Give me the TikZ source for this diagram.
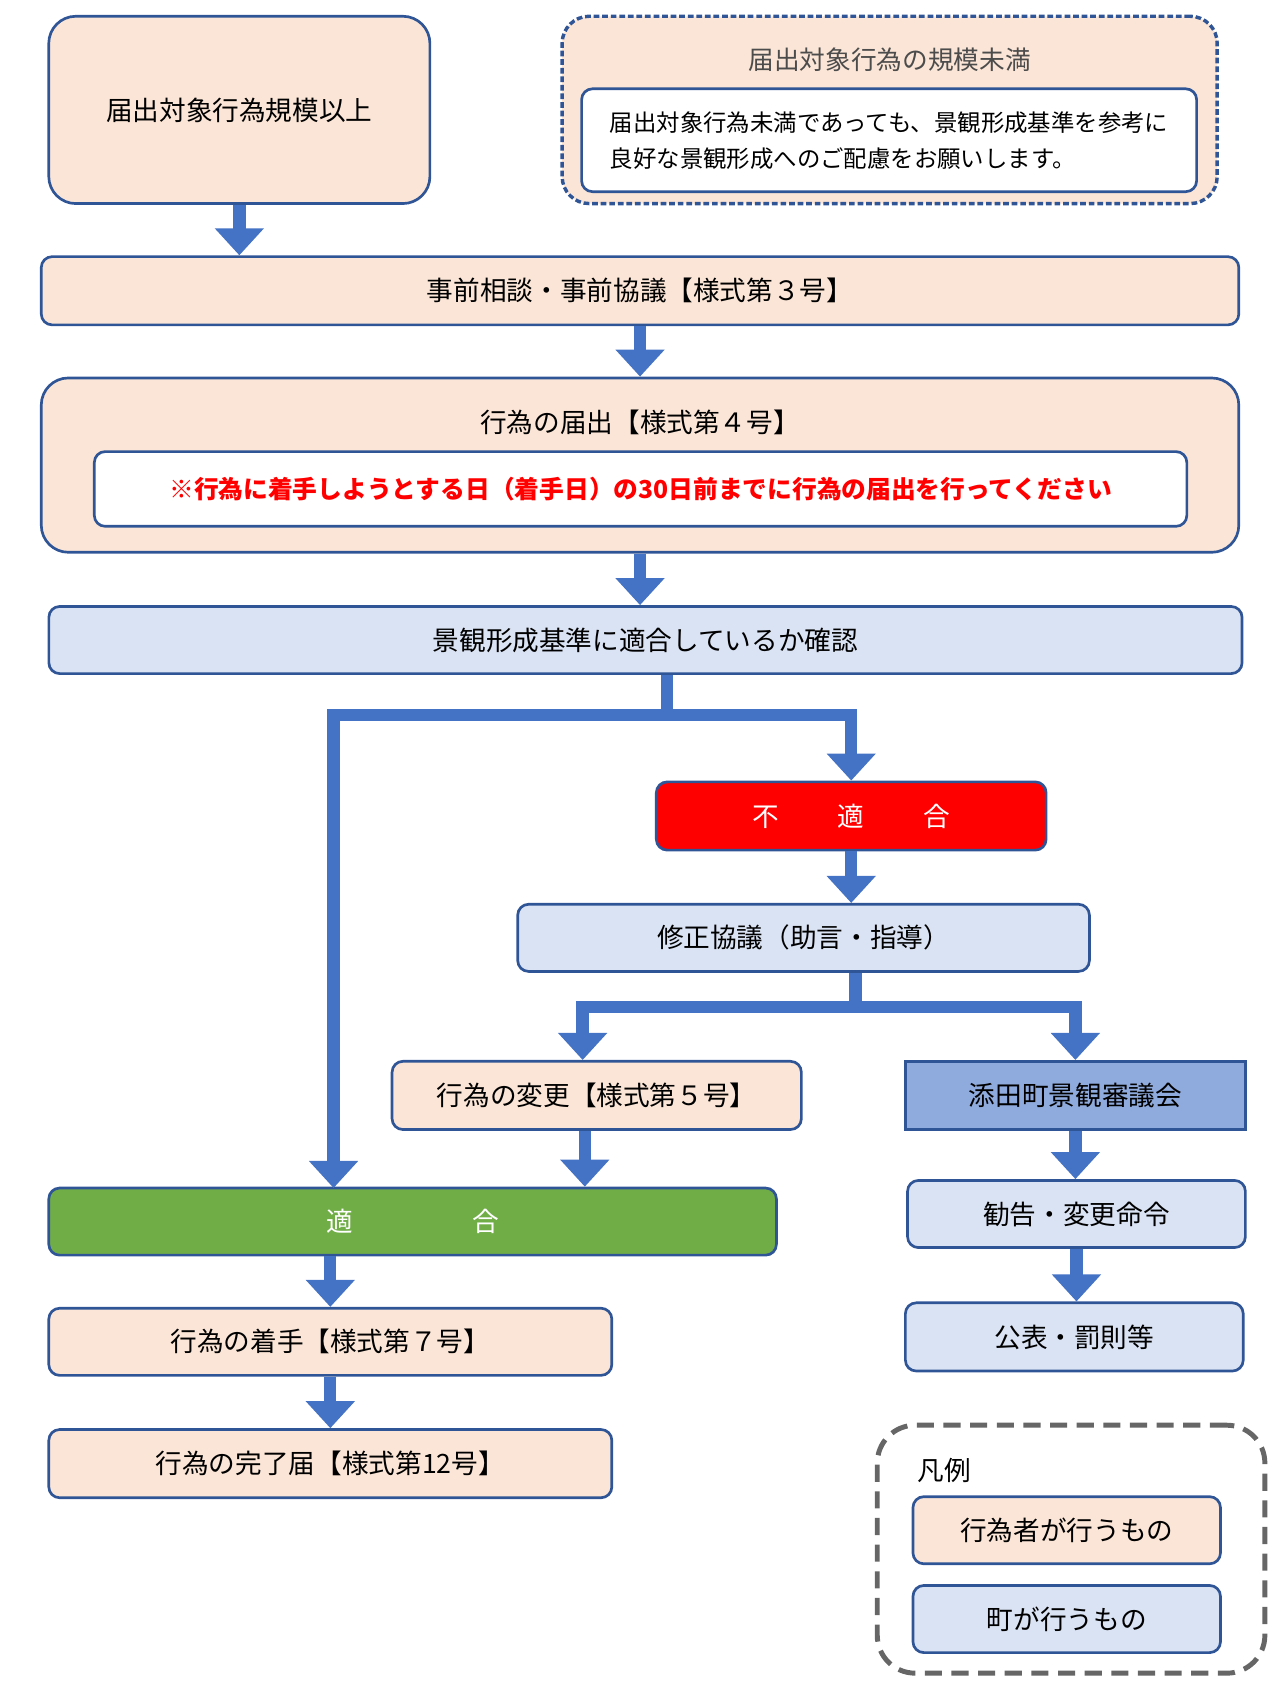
\documentclass[tikz,border=0pt]{standalone}
\usepackage{fontspec}
\setmainfont{Noto Sans CJK JP}
\usetikzlibrary{arrows.meta,positioning}

\definecolor{peach}{HTML}{FBE5D6}
\definecolor{pale}{HTML}{DAE3F3}
\definecolor{frame}{HTML}{2F5597}
\definecolor{flow}{HTML}{4472C4}
\definecolor{council}{HTML}{8FAADC}
\definecolor{okgreen}{HTML}{70AD47}

\tikzset{
  box/.style={draw=frame, line width=1.4pt, rounded corners=0.2cm, align=center,
    font=\fontsize{14}{17}\selectfont, inner sep=0pt},
  actor/.style={box, fill=peach},
  town/.style={box, fill=pale},
  fat/.style={flow, line width=6.5pt, -{Triangle[width=0.88cm,length=0.5cm]}},
  pipe/.style={flow, line width=6.5pt},
}

\begin{document}
\begin{tikzpicture}[x=0.02cm, y=-0.02cm]
\useasboundingbox (0,0) rectangle (1188,1567);

% upper boxes
\node[actor, rounded corners=0.5cm, minimum width=7.04cm, minimum height=3.46cm] (scale) at (221,101.5) {届出対象行為規模以上};
\node[actor, dash pattern=on 3pt off 1.5pt, line width=1.8pt, rounded corners=0.5cm, minimum width=12.1cm, minimum height=3.46cm] (small) at (821.5,101.5) {};
\node[text=black!70, font=\fontsize{13.5}{16}\selectfont] (smalltitle) at (821.5,55) {届出対象行為の規模未満};
\node[box, fill=white, minimum width=11.36cm, minimum height=1.9cm, align=left,
  font=\fontsize{12.3}{19}\selectfont] (smallnote) at (821,129.5)
  {届出対象行為未満であっても、景観形成基準を参考に\\良好な景観形成へのご配慮をお願いします。};

\node[actor, minimum width=22.12cm, minimum height=1.26cm] (consult) at (591,268.5) {事前相談・事前協議【様式第３号】};

\node[actor, rounded corners=0.5cm, minimum width=22.12cm, minimum height=3.22cm] (notify) at (591,429.5) {};
\node[font=\fontsize{14}{17}\selectfont] (notifytitle) at (591,390) {行為の届出【様式第４号】};
\node[box, fill=white, minimum width=20.18cm, minimum height=1.38cm, text=red,
  font=\fontsize{13}{15}\selectfont\bfseries] (deadline) at (591.5,451.5)
  {※行為に着手しようとする日（着手日）の30日前までに行為の届出を行ってください};

\node[town, minimum width=22.04cm, minimum height=1.24cm] (check) at (596,591) {景観形成基準に適合しているか確認};

% judgement
\node[box, fill=red, text=white, minimum width=7.2cm, minimum height=1.26cm] (ng) at (786,753.5) {不\hspace{2.2em}適\hspace{2.2em}合};
\node[town, minimum width=10.56cm, minimum height=1.24cm] (revise) at (742,866) {修正協議（助言・指導）};
\node[actor, minimum width=7.56cm, minimum height=1.26cm] (change) at (551,1011.5) {行為の変更【様式第５号】};
\node[box, fill=council, rounded corners=0pt, minimum width=6.28cm, minimum height=1.26cm] (council) at (993,1011.5) {添田町景観審議会};
\node[box, fill=okgreen, text=white, minimum width=13.44cm, minimum height=1.24cm] (ok) at (381,1128) {適\hspace{4.5em}合};
\node[actor, minimum width=10.4cm, minimum height=1.24cm] (start) at (305,1239) {行為の着手【様式第７号】};
\node[actor, minimum width=10.4cm, minimum height=1.26cm] (done) at (305,1351.5) {行為の完了届【様式第12号】};
\node[town, minimum width=6.24cm, minimum height=1.24cm] (order) at (994,1121) {勧告・変更命令};
\node[town, minimum width=6.24cm, minimum height=1.26cm] (publish) at (992,1234.5) {公表・罰則等};

% legend
\node[draw=black!60, line width=2.6pt, dash pattern=on 9pt off 5pt, rounded corners=0.7cm,
  minimum width=7.16cm, minimum height=4.58cm] (legend) at (989,1430.5) {};
\node[font=\fontsize{14}{17}\selectfont] (legendtitle) at (872,1358) {凡例};
\node[actor, minimum width=5.68cm, minimum height=1.24cm] (keyactor) at (985,1413) {行為者が行うもの};
\node[town, minimum width=5.68cm, minimum height=1.24cm] (keytown) at (985,1495) {町が行うもの};

% connectors
\coordinate (split) at (616,660);
\coordinate (okin) at (308,1097);
\coordinate (fork) at (790,930);
\draw[fat] (scale.south) -- (scale.south |- consult.north);
\draw[fat] (consult.south) -- (notify.north);
\draw[fat] (notify.south) -- (notify.south |- check.north);
\draw[pipe] (check.south -| split) -- (split);
\draw[fat] (split) -| (ng.north);
\draw[fat] (split) -| (okin);
\draw[fat] (ng.south) -- (ng.south |- revise.north);
\draw[pipe] (revise.south -| fork) -- (fork);
\draw[fat] (fork) -| ([xshift=-0.26cm]change.north);
\draw[fat] (fork) -| (council.north);
\draw[fat] ([xshift=-0.22cm]change.south) -- ([xshift=-0.22cm]change.south |- ok.north);
\draw[fat] (ok.south -| start.north) -- (start.north);
\draw[fat] (start.south) -- (done.north);
\draw[fat] (council.south) -- (council.south |- order.north);
\draw[fat] (order.south) -- (order.south |- publish.north);
\end{tikzpicture}
\end{document}
